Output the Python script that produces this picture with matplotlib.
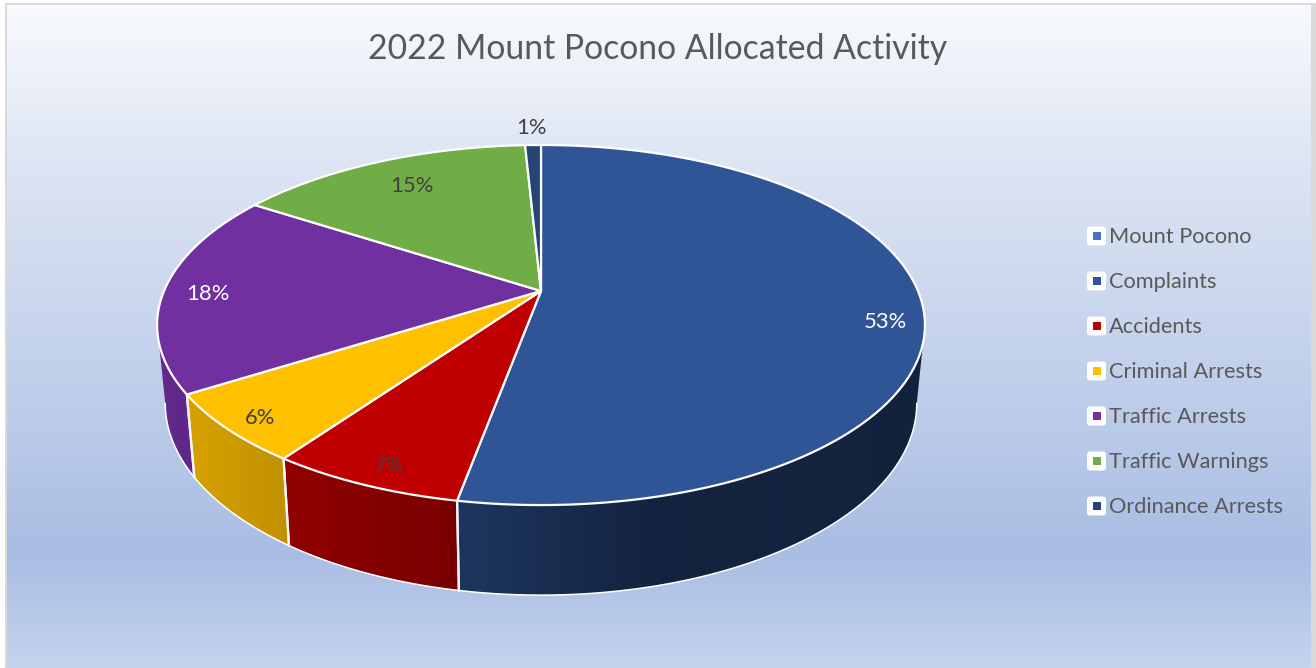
import numpy as np
import matplotlib
matplotlib.use('Agg')
import matplotlib.pyplot as plt
from matplotlib.colors import LinearSegmentedColormap, to_rgb
from matplotlib.patches import Polygon, FancyBboxPatch, Rectangle

# slices, clockwise from 12 o'clock
slices = ['Complaints', 'Accidents', 'Criminal Arrests', 'Traffic Arrests', 'Traffic Warnings', 'Ordinance Arrests']
shares = [52.9, 6.9, 6.2, 18.2, 15.0, 0.8]
slice_colors = ['#2F5597', '#C00000', '#FFC000', '#7030A0', '#70AD47', '#264478']
label_colors = ['white', '#404040', '#404040', 'white', '#404040', '#404040']
label_xy = [(885, 322), (389, 466), (260, 418), (208, 294), (412, 186), (531, 128)]

legend_names = ['Mount Pocono'] + slices
legend_colors = ['#4472C4'] + slice_colors

title = '2022 Mount Pocono Allocated Activity'
text_font = ['Lato', 'DejaVu Sans']

# the pie is a circle seen in perspective
cx, cy = 541, 291
k = 0.189


def top_rim(theta):
    u, v = np.sin(theta), np.cos(theta)
    d = 1 + k * v
    return np.column_stack([cx + 377 * u / d, cy - 173.6 * v / d])


def bottom_rim(theta):
    u, v = np.sin(theta), np.cos(theta)
    d = 1 + k * v
    return np.column_stack([cx + 369 * u / d, 367 - 185 * v / d])


fig = plt.figure(figsize=(13.16, 6.68), dpi=100)
ax = fig.add_axes([0, 0, 1, 1])
ax.set_xlim(0, 1316)
ax.set_ylim(668, 0)
ax.axis('off')

# background
bg_pos = [0, 0.22, 0.83, 1]
bg_col = ['#F8FAFD', '#DFE6F4', '#A9BDE3', '#C4D4ED']
bg = LinearSegmentedColormap.from_list('bg', list(zip(bg_pos, bg_col)))
ax.imshow(np.linspace(0, 1, 256).reshape(-1, 1), cmap=bg, extent=(7, 1311, 668, 5),
          aspect='auto', zorder=1)
ax.add_patch(Rectangle((5, 3), 2, 665, color='#D9D9D9', lw=0, zorder=2))
ax.add_patch(Rectangle((5, 3), 1311, 2, color='#D9D9D9', lw=0, zorder=2))
ax.add_patch(Rectangle((1311, 3), 5, 665, color='#D9D9D9', lw=0, zorder=2))

ax.text(658, 49, title, fontsize=24.3, color='#595959', family=text_font, ha='center', va='center', zorder=8)

# slice edges as angles
edges = np.radians(np.cumsum([0] + shares) / sum(shares) * 360)
side_from, side_to = np.arccos(-k), 2 * np.pi - np.arccos(-k)

# side wall, darker towards the right
shade_x = [160, 190, 289, 458, 650, 930]
shade_y = [0.88, 0.84, 0.75, 0.63, 0.42, 0.40]
xs = np.linspace(150, 935, 400)
shade = np.interp(xs, shade_x, shade_y)

for i in range(len(shares)):
    a = max(edges[i], side_from)
    b = min(edges[i + 1], side_to)
    if b <= a:
        continue
    t = np.linspace(a, b, 120)
    outline = np.vstack([top_rim(t), bottom_rim(t[::-1])])
    base = np.array(to_rgb(slice_colors[i]))
    grad = shade[None, :, None] * base[None, None, :]
    im = ax.imshow(grad, extent=(150, 935, 668, 0), aspect='auto', zorder=3)
    im.set_clip_path(Polygon(outline, transform=ax.transData))
    ax.plot(*bottom_rim(t).T, color='white', lw=1.1, zorder=4, solid_capstyle='round')
    # seam between side panels
    for e in (edges[i], edges[i + 1]):
        if side_from < e < side_to:
            seam = np.vstack([top_rim(np.array([e])), bottom_rim(np.array([e]))])
            ax.plot(*seam.T, color='#F4F6FA', lw=1.6, zorder=4)

# top face
for i in range(len(shares)):
    t = np.linspace(edges[i], edges[i + 1], max(3, int(shares[i] * 8)))
    pts = np.vstack([[cx, cy], top_rim(t)])
    ax.add_patch(Polygon(pts, closed=True, facecolor=slice_colors[i], edgecolor='white',
                         lw=1.6, joinstyle='round', zorder=5))

for v, c, (x, y) in zip(shares, label_colors, label_xy):
    ax.text(x, y, f'{v:.0f}%', fontsize=15.8, color=c, family=text_font, ha='center', va='center', zorder=8)

# legend
for i, (name, c) in enumerate(zip(legend_names, legend_colors)):
    y = 236 + 45 * i
    ax.add_patch(FancyBboxPatch((1089, y - 7.5), 15, 15, boxstyle='round,pad=2,rounding_size=3',
                                facecolor='white', edgecolor='none', zorder=6))
    ax.add_patch(Rectangle((1092.5, y - 4.5), 8, 8, facecolor=c, edgecolor='none', zorder=7))
    ax.text(1109, y + 1, name, fontsize=15.7, color='#595959', family=text_font, ha='left', va='center', zorder=8)

fig.savefig('out.png', dpi=100, facecolor='white')
